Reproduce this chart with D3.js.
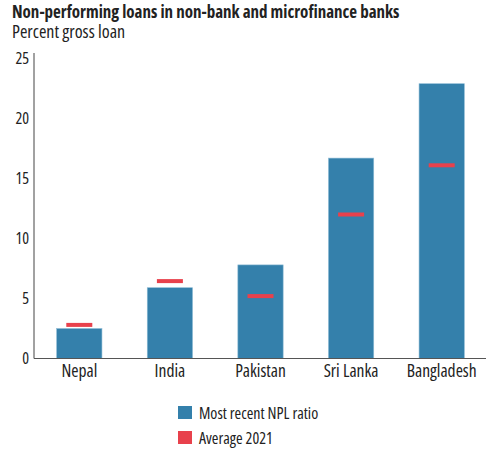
<!DOCTYPE html>
<html>
<head>
<meta charset="utf-8">
<script src="https://cdn.jsdelivr.net/npm/d3@7"></script>
<style>
  html, body { margin: 0; padding: 0; background: #fff; }
  svg { display: block; }
  text { font-family: "Open Sans", sans-serif; font-stretch: 80%; fill: #222; }
  .tick text { font-stretch: 87.5%; }
</style>
</head>
<body>
<svg id="chart" width="487" height="450"></svg>
<script>
// Non-performing loans, percent of gross loans
const countries = ["Nepal", "India", "Pakistan", "Sri Lanka", "Bangladesh"];
const recentNPL = [2.5, 5.9, 7.8, 16.7, 22.9];
const average2021 = [2.8, 6.45, 5.2, 12.0, 16.1];
const yTicks = [0, 5, 10, 15, 20, 25];
const legendItems = ["Most recent NPL ratio", "Average 2021"];

const blue = "#3480ab";
const red = "#e8414c";

const svg = d3.select("#chart");

const x = d3.scaleBand().domain(countries).range([34, 487])
  .paddingInner(0.5).paddingOuter(0.25);
const y = d3.scaleLinear().domain([0, 25]).range([358.5, 58.5]);

// Title and subtitle
svg.append("text").attr("x", 12).attr("y", 18)
  .style("font-size", "17px").style("font-weight", "bold")
  .text("Non-performing loans in non-bank and microfinance banks");
svg.append("text").attr("x", 12).attr("y", 38)
  .style("font-size", "18px")
  .text("Percent gross loan");

// Bars
svg.append("g").selectAll("rect").data(countries).join("rect")
  .attr("x", d => x(d))
  .attr("width", x.bandwidth())
  .attr("y", (d, i) => y(recentNPL[i]))
  .attr("height", (d, i) => y(0) - y(recentNPL[i]))
  .attr("fill", blue)
  .attr("stroke", "#8fbcd6").attr("stroke-width", 0.6);

// Average markers
const markW = 26;
svg.append("g").selectAll("rect").data(countries).join("rect")
  .attr("x", d => x(d) + x.bandwidth() / 2 - markW / 2)
  .attr("width", markW)
  .attr("y", (d, i) => y(average2021[i]) - 2)
  .attr("height", 4)
  .attr("fill", red);

// Y axis
const yAxis = svg.append("g").attr("transform", "translate(34,0)")
  .call(d3.axisLeft(y).tickValues(yTicks).tickSize(0).tickPadding(5));
yAxis.select(".domain").remove();
yAxis.selectAll("text").style("font-size", "16px").style("font-family", null).attr("fill", "#222");
svg.append("line").attr("x1", 34).attr("x2", 34).attr("y1", 53).attr("y2", y(0))
  .attr("stroke", "#444").attr("stroke-width", 1);

// X axis
const xAxis = svg.append("g").attr("transform", `translate(0,${y(0)})`)
  .call(d3.axisBottom(x).tickSize(0).tickPadding(6));
xAxis.select(".domain").remove();
xAxis.selectAll("text").style("font-size", "17.5px").style("font-family", null).attr("fill", "#222");
svg.append("line").attr("x1", 34).attr("x2", 486).attr("y1", y(0)).attr("y2", y(0))
  .attr("stroke", "#555").attr("stroke-width", 1);

// Legend
const legend = svg.append("g").attr("transform", "translate(178,406)");
legend.selectAll("rect").data(legendItems).join("rect")
  .attr("x", 0).attr("y", (d, i) => i * 25)
  .attr("width", 14).attr("height", 13)
  .attr("fill", (d, i) => i === 0 ? blue : red);
legend.selectAll("text").data(legendItems).join("text")
  .attr("x", 21).attr("y", (d, i) => i * 25 + 12.5)
  .style("font-size", "16px")
  .text(d => d);
</script>
</body>
</html>
